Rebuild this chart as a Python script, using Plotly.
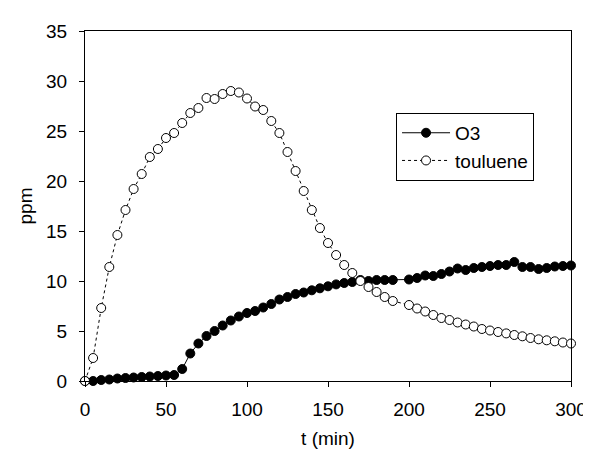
import plotly.graph_objects as go

t_min = [0, 5, 10, 15, 20, 25, 30, 35, 40, 45, 50, 55, 60, 65, 70, 75, 80, 85, 90, 95,
         100, 105, 110, 115, 120, 125, 130, 135, 140, 145, 150, 155, 160, 165, 170, 175,
         180, 185, 190, 200, 205, 210, 215, 220, 225, 230, 235, 240, 245, 250, 255, 260,
         265, 270, 275, 280, 285, 290, 295, 300]

o3 = [0, 0.0, 0.1, 0.15, 0.25, 0.3, 0.35, 0.4, 0.45, 0.5, 0.55, 0.6, 1.2, 2.75, 3.75, 4.5,
      5.0, 5.55, 6.05, 6.45, 6.8, 7.0, 7.35, 7.7, 8.15, 8.4, 8.7, 8.85, 9.07, 9.27, 9.47,
      9.66, 9.8, 9.9, 10.1, 10.0, 10.1, 10.1, 10.1, 10.15, 10.3, 10.55, 10.5, 10.7, 10.95,
      11.25, 11.1, 11.3, 11.4, 11.5, 11.6, 11.6, 11.9, 11.4, 11.4, 11.2, 11.3, 11.45, 11.5,
      11.55]

toluene = [0, 2.3, 7.3, 11.4, 14.6, 17.1, 19.2, 20.7, 22.4, 23.2, 24.3, 24.8, 25.8, 26.8,
           27.3, 28.3, 28.2, 28.7, 29.0, 28.85, 28.25, 27.45, 27.1, 26.0, 24.8, 22.9, 21.0,
           19.0, 17.1, 15.3, 13.8, 12.6, 11.6, 10.8, 10.0, 9.4, 8.9, 8.4, 8.0, 7.6, 7.25,
           6.95, 6.6, 6.3, 6.1, 5.85, 5.65, 5.45, 5.2, 5.05, 4.9, 4.76, 4.6, 4.47, 4.3, 4.17,
           4.07, 3.97, 3.85, 3.75]

x_ticks = [0, 50, 100, 150, 200, 250, 300]
y_ticks = [0, 5, 10, 15, 20, 25, 30, 35]

FONT = "Liberation Sans, Arial, sans-serif"

fig = go.Figure()
fig.add_trace(go.Scatter(
    x=t_min, y=o3, name="O3", mode="lines+markers",
    line=dict(color="black", width=1),
    marker=dict(symbol="circle", size=9, color="black", line=dict(color="black", width=1)),
    cliponaxis=False,
))
fig.add_trace(go.Scatter(
    x=t_min, y=toluene, name="touluene", mode="lines+markers",
    line=dict(color="black", width=1, dash="dot"),
    marker=dict(symbol="circle", size=9, color="white", line=dict(color="black", width=1)),
    cliponaxis=False,
))

fig.update_layout(
    width=591, height=449,
    margin=dict(l=77, r=17, t=23, b=71),
    paper_bgcolor="white", plot_bgcolor="white",
    font=dict(family=FONT, size=19, color="black"),
    showlegend=True,
    legend=dict(
        x=0.64, y=0.766, xanchor="left", yanchor="top",
        bgcolor="white", bordercolor="black", borderwidth=1,
        font=dict(family=FONT, size=19, color="black"),
        tracegroupgap=0, itemwidth=48,
    ),
    xaxis=dict(
        range=[0, 300], tickvals=x_ticks, ticktext=[str(v) for v in x_ticks],
        showgrid=False, zeroline=False,
        showline=True, linecolor="black", linewidth=1, mirror=True,
        ticks="outside", ticklen=5, tickcolor="black", tickwidth=1,
        ticklabelstandoff=6,
        title=dict(text="t (min)", font=dict(family=FONT, size=19), standoff=12),
    ),
    yaxis=dict(
        range=[0, 35], tickvals=y_ticks, ticktext=[str(v) for v in y_ticks],
        showgrid=False, zeroline=False,
        showline=True, linecolor="black", linewidth=1, mirror=True,
        ticks="outside", ticklen=5, tickcolor="black", tickwidth=1,
        ticklabelstandoff=8,
        title=dict(text="ppm", font=dict(family=FONT, size=19), standoff=8),
    ),
)

fig.write_html("out.html")
